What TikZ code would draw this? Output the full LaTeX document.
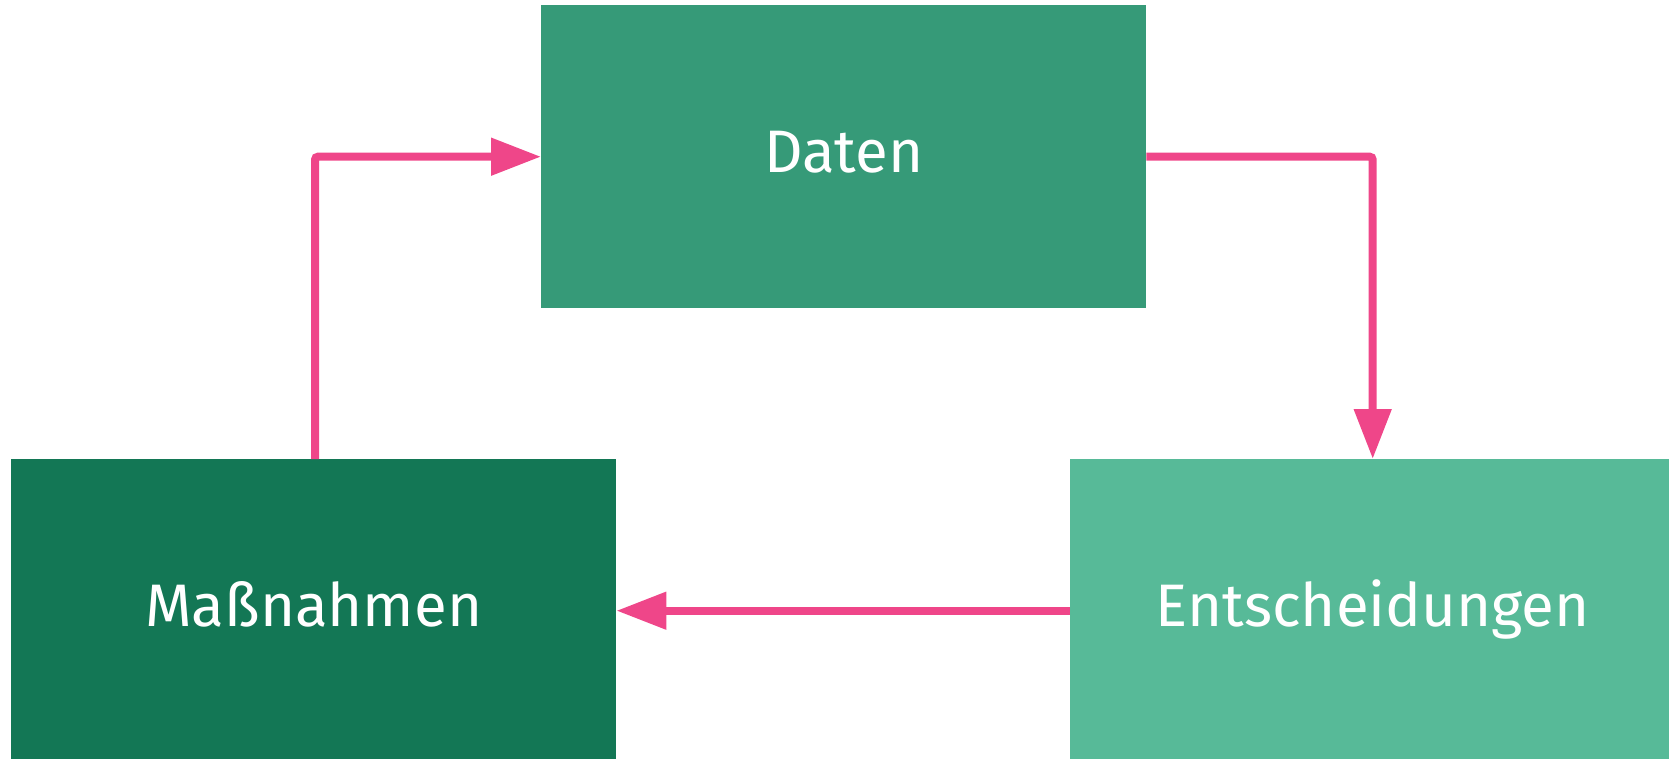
\documentclass[tikz,border=0pt]{standalone}
\usepackage{fontspec}
\setmainfont{Fira Sans}
\usetikzlibrary{arrows.meta}
\definecolor{datenc}{HTML}{369A78}
\definecolor{massc}{HTML}{137755}
\definecolor{entc}{HTML}{57BA98}
\definecolor{pinkc}{HTML}{EF4689}
\tikzset{
  box/.style={draw=none, minimum width=605pt, minimum height=303pt, inner sep=0pt,
    text height=40pt, text depth=8pt, text=white, font=\fontsize{60}{70}\selectfont},
  arr/.style={draw=pinkc, line width=8pt, rounded corners=3pt, -{Triangle[length=50pt,width=36pt]}}
}
\begin{document}
\begin{tikzpicture}[x=1pt,y=-1pt]
\useasboundingbox (0,0) rectangle (1669,759);
\node[box, fill=datenc, anchor=north west] (daten) at (541,5) {Daten};
\node[box, fill=massc, anchor=north west] (mass) at (11,459) {Maßnahmen};
\node[box, fill=entc, anchor=north west] (ent) at (1070,459) {Entscheidungen};
\draw[arr] ([xshift=304pt]mass.north west) |- (daten.west);
\draw[arr] (daten.east) -| (ent.north);
\draw[arr] (ent.west) -- (mass.east);
\end{tikzpicture}
\end{document}
